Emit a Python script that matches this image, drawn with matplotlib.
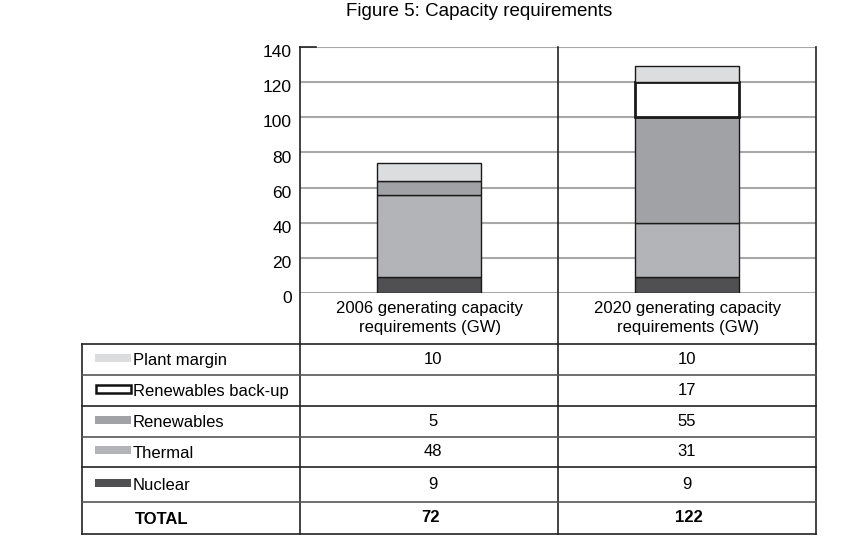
import matplotlib
matplotlib.use("Agg")
import matplotlib.pyplot as plt
import matplotlib.transforms as mtransforms
from matplotlib.patches import Rectangle

plt.rcParams['font.family'] = ['Liberation Sans', 'DejaVu Sans']

# bar segments as drawn (GW)
categories = ['2006 generating capacity\nrequirements (GW)',
              '2020 generating capacity\nrequirements (GW)']
series = ['Nuclear', 'Thermal', 'Renewables', 'Renewables back-up', 'Plant margin']
nuclear = [9, 9]
thermal = [47, 31]
renewables = [8, 60]
backup = [0, 20]
margin = [10, 9]

# table content (as printed)
table_rows = ['Plant margin', 'Renewables back-up', 'Renewables', 'Thermal', 'Nuclear']
table_2006 = ['10', '', '5', '48', '9']
table_2020 = ['10', '17', '55', '31', '9']
totals = ['72', '122']

yticks = [0, 20, 40, 60, 80, 100, 120, 140]

colors = {'Nuclear': '#505052', 'Thermal': '#b3b4b7', 'Renewables': '#a1a2a5',
          'Renewables back-up': 'white', 'Plant margin': '#dcdddf'}

W, H = 844, 550
fig = plt.figure(figsize=(W / 100, H / 100), dpi=100)

# plot area in pixels
x0, x1, xm = 300, 816, 558
ytop, ybot = 47, 293
ax = fig.add_axes([x0 / W, 1 - ybot / H, (x1 - x0) / W, (ybot - ytop) / H])
ax.set_xlim(0, 2)
ax.set_ylim(0, 140)

xs = [0.5, 1.5]
bottom = [0, 0]
for name, vals in zip(series, [nuclear, thermal, renewables, backup, margin]):
    lw = 2 if name == 'Renewables back-up' else 1
    for i in range(2):
        if vals[i] == 0:
            continue
        ax.bar(xs[i], vals[i], width=0.4, bottom=bottom[i], color=colors[name],
               edgecolor='#1a1a1a', linewidth=lw, zorder=3)
    bottom = [b + v for b, v in zip(bottom, vals)]

ax.set_yticks(yticks)
ax.set_yticklabels([str(t) for t in yticks], fontsize=12.5)
ax.tick_params(axis='y', length=0, pad=6)
offset = mtransforms.ScaledTranslation(0, -3 / 72, fig.dpi_scale_trans)
for lab in ax.get_yticklabels():
    lab.set_transform(lab.get_transform() + offset)
ax.set_xticks([])
ax.grid(axis='y', color='#a8a8a8', linewidth=1.5, zorder=1)
for s in ax.spines.values():
    s.set_visible(False)

# overlay in pixel coordinates for table and frame lines
ov = fig.add_axes([0, 0, 1, 1], zorder=5)
ov.set_xlim(0, W)
ov.set_ylim(H, 0)
ov.axis('off')
ov.patch.set_alpha(0)

tleft, tbot = 82, 534
row_y = [344, 375, 406, 437, 467, 502, 534]
lc = '#222222'
for x in [x0, xm, x1]:
    ov.plot([x, x], [ytop, tbot], color=lc, lw=1.2)
ov.plot([x0, x0 + 16], [ytop, ytop], color=lc, lw=1.2)
ov.plot([tleft, tleft], [row_y[0], tbot], color=lc, lw=1.2)
for i, y in enumerate(row_y):
    ov.plot([tleft, x1], [y, y], color=lc if i % 2 == 0 else '#555555', lw=1.2)

col_c = [(x0 + xm) / 2, (xm + x1) / 2]
for c, lab in zip(col_c, categories):
    ov.text(c + 1, 318, lab, ha='center', va='center', fontsize=12, linespacing=1.4)

for i, name in enumerate(table_rows):
    yc = (row_y[i] + row_y[i + 1]) / 2
    if name == 'Renewables back-up':
        ov.add_patch(Rectangle((96, yc - 6), 35, 8, facecolor='white',
                               edgecolor='#111111', lw=1.8))
    else:
        ov.add_patch(Rectangle((95, yc - 6), 36, 8, facecolor=colors[name],
                               edgecolor='none'))
    ov.text(133, yc + 1, name, ha='left', va='center', fontsize=12)
    ov.text(col_c[0] + 4, yc, table_2006[i], ha='center', va='center', fontsize=12)
    ov.text(col_c[1], yc, table_2020[i], ha='center', va='center', fontsize=12)

yc = (row_y[5] + row_y[6]) / 2
ov.text(135, yc + 1, 'TOTAL', ha='left', va='center', fontsize=12, fontweight='bold')
for c, t in zip(col_c, totals):
    ov.text(c + 2, yc - 1, t, ha='center', va='center', fontsize=12, fontweight='bold')

fig.text(479 / W, 1 - 12 / H, 'Figure 5: Capacity requirements', ha='center',
         va='center', fontsize=13.5)

fig.savefig('out.png', dpi=100)
